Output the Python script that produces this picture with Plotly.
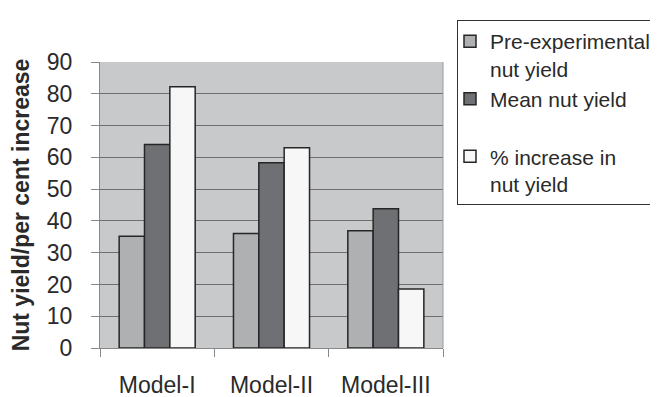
import plotly.graph_objects as go

categories = ["Model-I", "Model-II", "Model-III"]
pre_experimental = [35.2, 36.0, 36.9]
mean_yield = [64.0, 58.3, 43.8]
pct_increase = [82.2, 63.0, 18.6]
y_ticks = [0, 10, 20, 30, 40, 50, 60, 70, 80, 90]

series = [
    ("Pre-experimental<br>nut yield", pre_experimental, "#afb0b2"),
    ("Mean nut yield<br> ", mean_yield, "#6f7073"),
    ("% increase in<br>nut yield", pct_increase, "#f7f7f7"),
]

# page has an 8px body margin, so the figure is sized to fill the rest
W, H = 650, 389

fig = go.Figure()
for name, vals, col in series:
    fig.add_trace(go.Bar(
        x=categories, y=vals, name=name,
        marker=dict(color=col, line=dict(color="#262626", width=1.5)),
    ))

font_family = "Liberation Sans, Arial, sans-serif"
fig.update_layout(
    width=W, height=H,
    margin=dict(l=92, r=215, t=54, b=49, autoexpand=False),
    paper_bgcolor="white",
    plot_bgcolor="#c8c9cb",
    barmode="group",
    bargap=0.335,
    bargroupgap=0,
    font=dict(family=font_family, size=22, color="#2a2a2a"),
    showlegend=True,
    legend=dict(
        xref="container", yref="container",
        x=449 / W, y=1 - 12 / H, xanchor="left", yanchor="top",
        bordercolor="#333333", borderwidth=1,
        bgcolor="white",
        font=dict(size=21, color="#2a2a2a"),
        valign="top",
        traceorder="normal",
        tracegroupgap=0,
        indentation=-8,
    ),
    xaxis=dict(
        tickson="boundaries",
        ticks="outside", ticklen=8, tickcolor="#888888",
        showline=True, linecolor="#888888", linewidth=1,
        mirror=False,
        tickfont=dict(size=23),
        ticklabelstandoff=16,
        showgrid=False,
    ),
    yaxis=dict(
        range=[0, 90],
        tickvals=y_ticks,
        ticks="outside", ticklen=8, tickcolor="#888888",
        showline=True, linecolor="#888888", linewidth=1,
        showgrid=True, gridcolor="#6e6e6e", gridwidth=1,
        tickfont=dict(size=23),
        ticklabelstandoff=14,
        title=dict(text="<b>Nut yield/per cent increase</b>", font=dict(size=23), standoff=12),
        zeroline=False,
    ),
)

# right border of plot area
fig.add_shape(type="line", xref="paper", yref="paper", x0=1, x1=1, y0=0, y1=1,
              line=dict(color="#999999", width=1))

fig.write_html("out.html")
